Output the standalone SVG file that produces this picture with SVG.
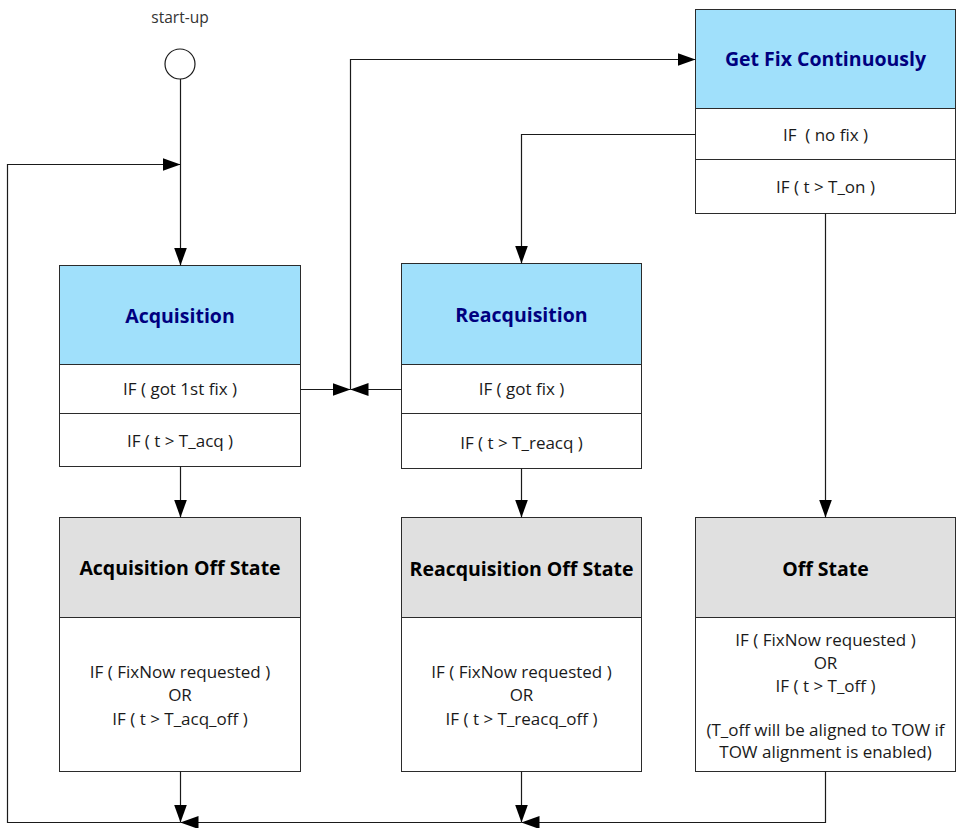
<svg xmlns="http://www.w3.org/2000/svg" width="961" height="828" viewBox="0 0 961 828">
<style>
.box{fill:#ffffff;stroke:#2b2b2b;stroke-width:1}
.hdr{fill:#a0e0fb;stroke:#2b2b2b;stroke-width:1}
.ghdr{fill:#e0e0e0;stroke:#2b2b2b;stroke-width:1}
.sep{stroke:#2b2b2b;stroke-width:1.2;fill:none}
.ttl{font-family:"Open Sans","Noto Sans",sans-serif;font-weight:bold;font-size:19.5px;fill:#00007f;text-anchor:middle}
.gttl{font-family:"Open Sans","Noto Sans",sans-serif;font-weight:bold;font-size:19.5px;fill:#000000;text-anchor:middle}
.txt{font-family:"Open Sans","Noto Sans",sans-serif;font-size:17px;fill:#1a1a1a;text-anchor:middle}
.con{fill:none;stroke:#1a1a1a;stroke-width:1.2}
</style>
<defs>
<marker id="arr" markerUnits="userSpaceOnUse" markerWidth="18" markerHeight="14" refX="18" refY="6.5" orient="auto">
<path d="M0,0 L18,6.5 L0,13 z" fill="#000000"/>
</marker>
</defs>

<g id="start">
<text x="180" y="23" style="font-family:'Open Sans','Noto Sans',sans-serif;font-size:15.5px;fill:#333;text-anchor:middle">start-up</text>
<circle cx="180" cy="64" r="15" fill="#ffffff" stroke="#1a1a1a" stroke-width="1.2"/>
</g>

<g id="acquisition">
<rect class="box" x="59.5" y="265.5" width="241" height="201"/>
<rect class="hdr" x="59.5" y="265.5" width="241" height="99"/>
<line class="sep" x1="59.5" y1="413.5" x2="300.5" y2="413.5"/>
<text class="ttl" x="180" y="323">Acquisition</text>
<text class="txt" x="180" y="395">IF ( got 1st fix )</text>
<text class="txt" x="180" y="447">IF ( t &gt; T_acq )</text>
</g>

<g id="reacquisition">
<rect class="box" x="401.5" y="263.5" width="240" height="205"/>
<rect class="hdr" x="401.5" y="263.5" width="240" height="101"/>
<line class="sep" x1="401.5" y1="413.5" x2="641.5" y2="413.5"/>
<text class="ttl" x="521.5" y="322">Reacquisition</text>
<text class="txt" x="521.5" y="395">IF ( got fix )</text>
<text class="txt" x="521.5" y="449">IF ( t &gt; T_reacq )</text>
</g>

<g id="getfix">
<rect class="box" x="695.5" y="9.5" width="260" height="204"/>
<rect class="hdr" x="695.5" y="9.5" width="260" height="99"/>
<line class="sep" x1="695.5" y1="159.5" x2="955.5" y2="159.5"/>
<text class="ttl" x="825.5" y="66">Get Fix Continuously</text>
<text class="txt" x="825.5" y="141" xml:space="preserve">IF  ( no fix )</text>
<text class="txt" x="825.5" y="193">IF ( t &gt; T_on )</text>
</g>

<g id="acqoff">
<rect class="box" x="59.5" y="517.5" width="241" height="254"/>
<rect class="ghdr" x="59.5" y="517.5" width="241" height="100"/>
<text class="gttl" x="180" y="575">Acquisition Off State</text>
<text class="txt" x="180" y="678">IF ( FixNow requested )</text>
<text class="txt" x="180" y="701">OR</text>
<text class="txt" x="180" y="725">IF ( t &gt; T_acq_off )</text>
</g>

<g id="reacqoff">
<rect class="box" x="401.5" y="517.5" width="240" height="254"/>
<rect class="ghdr" x="401.5" y="517.5" width="240" height="100"/>
<text class="gttl" x="521.5" y="576">Reacquisition Off State</text>
<text class="txt" x="521.5" y="678">IF ( FixNow requested )</text>
<text class="txt" x="521.5" y="701">OR</text>
<text class="txt" x="521.5" y="725">IF ( t &gt; T_reacq_off )</text>
</g>

<g id="offstate">
<rect class="box" x="695.5" y="517.5" width="260" height="254"/>
<rect class="ghdr" x="695.5" y="517.5" width="260" height="100"/>
<text class="gttl" x="825.5" y="576">Off State</text>
<text class="txt" x="825.5" y="646">IF ( FixNow requested )</text>
<text class="txt" x="825.5" y="669">OR</text>
<text class="txt" x="825.5" y="692">IF ( t &gt; T_off )</text>
<text class="txt" x="825.5" y="736">(T_off will be aligned to TOW if</text>
<text class="txt" x="825.5" y="758">TOW alignment is enabled)</text>
</g>

<g id="connectors">
<path class="con" d="M180.5,79 L180.5,265.5" marker-end="url(#arr)"/>
<path class="con" d="M180.5,822.5 L7.5,822.5 L7.5,164.5 L180.5,164.5" marker-end="url(#arr)"/>
<path class="con" d="M300.5,389.5 L350.5,389.5" marker-end="url(#arr)"/>
<path class="con" d="M401.5,389.5 L350.5,389.5" marker-end="url(#arr)"/>
<path class="con" d="M350.5,389.5 L350.5,59.5 L695.5,59.5" marker-end="url(#arr)"/>
<path class="con" d="M695.5,134.5 L521.5,134.5 L521.5,263.5" marker-end="url(#arr)"/>
<path class="con" d="M825.5,213.5 L825.5,517.5" marker-end="url(#arr)"/>
<path class="con" d="M180.5,466.5 L180.5,517.5" marker-end="url(#arr)"/>
<path class="con" d="M521.5,468.5 L521.5,517.5" marker-end="url(#arr)"/>
<path class="con" d="M180.5,771.5 L180.5,822.5" marker-end="url(#arr)"/>
<path class="con" d="M521.5,771.5 L521.5,822.5" marker-end="url(#arr)"/>
<path class="con" d="M825.5,771.5 L825.5,822.5 L521.5,822.5" marker-end="url(#arr)"/>
<path class="con" d="M521.5,822.5 L180.5,822.5" marker-end="url(#arr)"/>
</g>
</svg>
